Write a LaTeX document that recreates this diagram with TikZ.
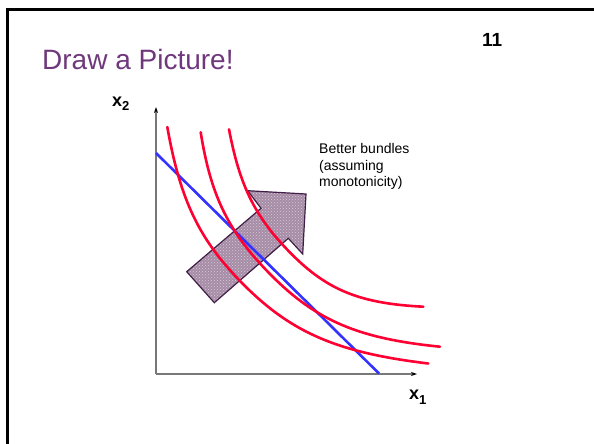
\documentclass[tikz,border=0pt]{standalone}
\usepackage{fontspec}
\setmainfont{Liberation Sans}
\usetikzlibrary{patterns,arrows.meta}
\definecolor{titlepurple}{RGB}{112,56,124}
\definecolor{curvered}{RGB}{255,0,51}
\definecolor{lineblue}{RGB}{51,51,255}
\definecolor{arrowfill}{RGB}{166,140,166}
\definecolor{arrowedge}{RGB}{64,30,72}
\definecolor{axisgray}{RGB}{120,120,120}
\tikzset{
  icurve/.style={curvered, line width=2.6pt, line cap=round},
  budget/.style={lineblue, line width=2.6pt},
  axisline/.style={axisgray, line width=1.1pt, -{Stealth[length=6pt,width=4pt,black]}},
  lbl/.style={inner sep=0pt, anchor=base west},
}
\begin{document}
\begin{tikzpicture}[x=1pt,y=-1pt]
\useasboundingbox (0,0) rectangle (594,444);
% frame
\draw[black, line width=3pt] (7.5,446) -- (7.5,10) -- (596,10);
% title and page number
\node[lbl, text=titlepurple, font=\fontsize{28}{30}\selectfont] (title) at (42,70) {Draw a Picture!};
\node[lbl, font=\fontsize{19}{20}\selectfont\bfseries] (pagenum) at (482,47) {11};
% arrow (better bundles)
\fill[arrowfill] (186.7,271.7) -- (214.3,302.7) -- (288.3,238.3) -- (302.7,254) -- (306,194) -- (247.7,190.7) -- (261,208.3) -- cycle;
\fill[pattern=crosshatch dots, pattern color=white!55!arrowfill] (186.7,271.7) -- (214.3,302.7) -- (288.3,238.3) -- (302.7,254) -- (306,194) -- (247.7,190.7) -- (261,208.3) -- cycle;
\draw[arrowedge, line width=1.2pt, line join=miter] (186.7,271.7) -- (214.3,302.7) -- (288.3,238.3) -- (302.7,254) -- (306,194) -- (247.7,190.7) -- (261,208.3) -- cycle;
% axes
\coordinate (O) at (156,374);
\coordinate (ytop) at (156,107);
\coordinate (xend) at (417,374);
\draw[axisline] (O) -- (ytop);
\draw[axisline] (O) -- (xend);
% budget line
\coordinate (b1) at (156,153);
\coordinate (b2) at (379,373.5);
\draw[budget] (b1) -- (b2);
% indifference curves
\draw[icurve] (167.3,127) .. controls (180.4,201) and (199.5,240.5) .. (244,285)
  .. controls (292.1,333.1) and (338.2,352.7) .. (428.3,363.5);
\draw[icurve] (200.7,132.3) .. controls (211,196.9) and (228.8,232.8) .. (272,276)
  .. controls (316.9,320.9) and (358.9,338.6) .. (440,346.7);
\draw[icurve] (229,129.3) .. controls (239.9,186.8) and (255.6,218.1) .. (292,254.5)
  .. controls (328,290.5) and (360.8,303.6) .. (423.3,306.7);
% labels
\node[lbl, font=\fontsize{18}{20}\selectfont\bfseries] (x2) at (112,106) {x\raisebox{-4.5pt}{\fontsize{13}{14}\selectfont 2}};
\node[lbl, font=\fontsize{18}{20}\selectfont\bfseries] (x1) at (409,399.5) {x\raisebox{-4.5pt}{\fontsize{13}{14}\selectfont 1}};
\node[inner sep=0pt, anchor=north west, align=left, font=\fontsize{14}{16.7}\selectfont] (better) at (319,143) {Better bundles\\(assuming\\monotonicity)};
\end{tikzpicture}
\end{document}
